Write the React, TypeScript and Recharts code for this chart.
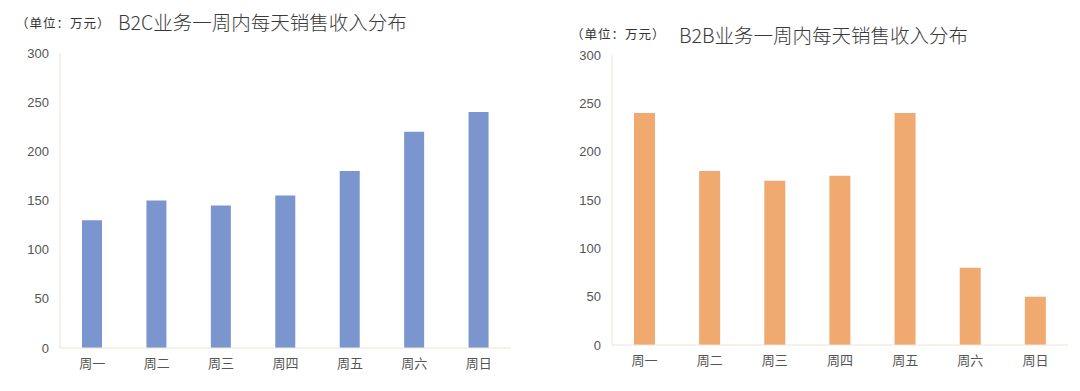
import { BarChart, Bar, XAxis, YAxis } from 'recharts';

const days = ['周一', '周二', '周三', '周四', '周五', '周六', '周日'];
const b2cValues = [130, 150, 145, 155, 180, 220, 240];
const b2bValues = [240, 180, 170, 175, 240, 80, 50];
const yTicks = [0, 50, 100, 150, 200, 250, 300];

const FONT = '"Liberation Sans", "Noto Sans CJK SC", sans-serif';
const AXIS_COLOR = '#ebe6d6';
const TICK = { fill: '#555', fontSize: 13, fontFamily: FONT };

const b2cData = days.map((d, i) => ({ day: d, value: b2cValues[i] }));
const b2bData = days.map((d, i) => ({ day: d, value: b2bValues[i] }));

function DayChart({ data, color, margin, barSize }: { data: any[]; color: string; margin: any; barSize: number }) {
  return (
    <BarChart width={540} height={391} data={data} margin={margin}>
      <XAxis
        dataKey="day"
        height={30}
        tick={TICK}
        tickLine={false}
        tickSize={8}
        tickMargin={3}
        axisLine={{ stroke: AXIS_COLOR }}
        interval={0}
      />
      <YAxis
        width={40}
        domain={[0, 300]}
        ticks={yTicks}
        tick={TICK}
        tickLine={false}
        tickSize={8}
        tickMargin={3}
        axisLine={{ stroke: AXIS_COLOR }}
      />
      <Bar dataKey="value" fill={color} barSize={barSize} isAnimationActive={false} />
    </BarChart>
  );
}

const unitStyle = { position: 'absolute' as const, fontSize: 12.5, letterSpacing: 1, color: '#333', whiteSpace: 'nowrap' as const };
const titleStyle = {
  position: 'absolute' as const,
  fontFamily: '"Noto Sans CJK SC", sans-serif',
  fontSize: 19.5,
  fontWeight: 300,
  color: '#3a3a3a',
  whiteSpace: 'nowrap' as const,
};

export default function App() {
  return (
    <div style={{ position: 'absolute', left: 0, top: 0, width: 1080, height: 391, background: '#fff', fontFamily: FONT }}>
      <div style={{ position: 'absolute', left: 0, top: 0 }}>
        <DayChart data={b2cData} color="#7b95cf" barSize={20} margin={{ top: 53, right: 29, bottom: 13, left: 20 }} />
      </div>
      <div style={{ position: 'absolute', left: 540, top: 0 }}>
        <DayChart data={b2bData} color="#f0aa70" barSize={21} margin={{ top: 55, right: 12, bottom: 16, left: 32 }} />
      </div>
      <div style={{ ...unitStyle, left: 16, top: 13 }}>（单位：万元）</div>
      <div style={{ ...titleStyle, left: 118, top: 7 }}>B2C业务一周内每天销售收入分布</div>
      <div style={{ ...unitStyle, left: 571, top: 24 }}>（单位：万元）</div>
      <div style={{ ...titleStyle, left: 679, top: 20 }}>B2B业务一周内每天销售收入分布</div>
    </div>
  );
}
